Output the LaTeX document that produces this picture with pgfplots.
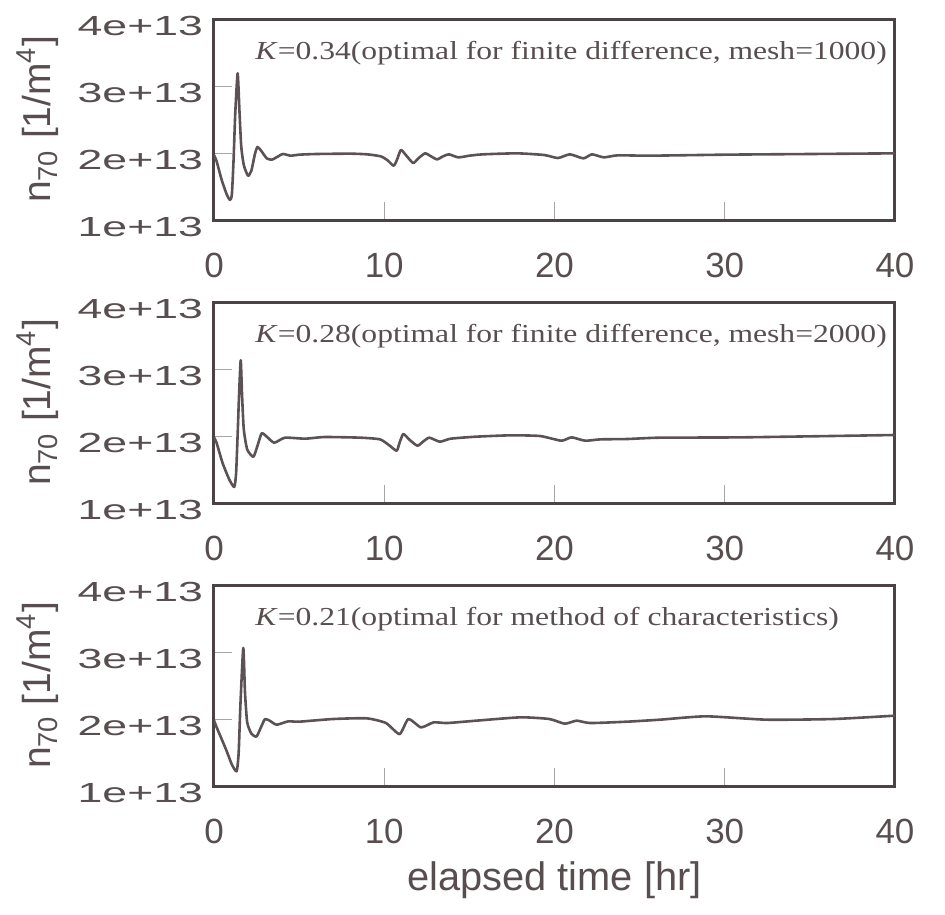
\documentclass[border=0pt]{standalone}
\usepackage{graphicx}
\usepackage{pgfplots}
\pgfplotsset{compat=1.18}
\usepackage{fontspec}
\setmainfont{Liberation Sans}
\newfontfamily\timesfont{Liberation Serif}
\definecolor{ink}{RGB}{88,78,80}
\definecolor{boxc}{RGB}{75,66,69}
\definecolor{tickc}{RGB}{170,165,165}
\definecolor{curve}{RGB}{92,82,85}

\newcommand{\ytl}[1]{\scalebox{1}[0.62]{#1}}
\pgfplotsset{panel/.style={
  scale only axis, width=340.5bp, height=100.5bp,
  xmin=0, xmax=40, ymin=1e13, ymax=4e13,
  xtick={0,10,20,30,40}, xticklabels={0,10,20,30,40},
  ytick={1e13,2e13,3e13,4e13},
  yticklabels={\ytl{1e+13},\ytl{2e+13},\ytl{3e+13},\ytl{4e+13}},
  scaled y ticks=false,
  tick align=inside, xtick pos=bottom, ytick pos=left,
  major tick length=9bp,
  tick style={draw=tickc, line width=0.5bp},
  axis line style={draw=boxc, line width=1.5bp, line cap=rect},
  xticklabel style={font=\fontsize{17.5bp}{20bp}\selectfont, text=ink, yshift=-13bp},
  yticklabel style={font=\fontsize{22.3bp}{24bp}\selectfont, text=ink, anchor=east, xshift=-2bp, yshift=-3.5bp},
  ylabel={n\textsubscript{70} [1/m\textsuperscript{4}]},
  ylabel style={font=\fontsize{19.5bp}{22bp}\selectfont, text=ink, at={(axis description cs:-0.2585,0.5)}, anchor=center},
},
nline/.style={draw=curve, line width=1.3bp, line join=round, smooth, tension=0.35, mark=none}}

\begin{document}
\begin{tikzpicture}
\useasboundingbox (-107bp,-347.5bp) rectangle (365.5bp,110bp);

\begin{axis}[panel, at={(0,0)}, anchor=south west]
\addplot[nline] coordinates {
(0,1.97e13) (0.15,1.88e13) (0.45,1.6e13) (0.75,1.38e13) (0.94,1.30e13) (1.05,1.38e13) (1.15,1.9e13) (1.25,2.6e13) (1.39,3.19e13) (1.5,2.6e13) (1.6,2.1e13) (1.75,1.82e13) (2.0,1.66e13) (2.2,1.74e13) (2.4,1.98e13) (2.55,2.09e13) (2.75,2.04e13) (3.1,1.92e13) (3.4,1.90e13) (3.7,1.94e13) (4.05,1.985e13) (4.5,1.96e13) (5.0,1.975e13) (6,1.985e13) (8,1.99e13) (9,1.98e13) (9.8,1.95e13) (10.2,1.89e13) (10.55,1.81e13) (10.75,1.9e13) (10.98,2.045e13) (11.3,1.96e13) (11.7,1.85e13) (12.0,1.92e13) (12.4,1.995e13) (12.75,1.95e13) (13.1,1.905e13) (13.45,1.95e13) (13.8,1.98e13) (14.35,1.935e13) (15.0,1.96e13) (15.8,1.98e13) (17.8,1.995e13) (19.4,1.97e13) (20.2,1.925e13) (20.9,1.98e13) (21.7,1.92e13) (22.2,1.98e13) (22.9,1.935e13) (23.7,1.965e13) (25.6,1.96e13) (30,1.975e13) (35,1.985e13) (40,1.995e13)
};
\node[anchor=base west, font=\timesfont\fontsize{15.8bp}{18bp}\selectfont, text=ink, inner sep=0pt] at (rel axis cs:0.0602,0.801) {\scalebox{1}[0.82]{\textit{K}=0.34(optimal for finite difference, mesh=1000)}};
\end{axis}

\begin{axis}[panel, at={(0,-141.5bp)}, anchor=south west]
\addplot[nline] coordinates {
(0,1.98e13) (0.15,1.9e13) (0.5,1.6e13) (0.9,1.35e13) (1.19,1.24e13) (1.3,1.45e13) (1.4,2.1e13) (1.47,2.6e13) (1.57,3.13e13) (1.65,2.6e13) (1.75,2.1e13) (1.95,1.8e13) (2.31,1.69e13) (2.55,1.85e13) (2.8,2.04e13) (3.1,1.99e13) (3.54,1.90e13) (4.17,1.975e13) (5.35,1.96e13) (6.5,1.985e13) (8.6,1.975e13) (9.75,1.95e13) (10.3,1.86e13) (10.73,1.78e13) (10.9,1.9e13) (11.12,2.03e13) (11.5,1.94e13) (11.95,1.855e13) (12.3,1.92e13) (12.65,1.975e13) (13.27,1.915e13) (13.9,1.96e13) (15.4,1.99e13) (17.4,2.01e13) (19.15,2.0e13) (20.4,1.93e13) (21.0,1.98e13) (21.8,1.93e13) (22.7,1.95e13) (24.25,1.955e13) (26.2,1.975e13) (31,1.98e13) (40,2.015e13)
};
\node[anchor=base west, font=\timesfont\fontsize{15.8bp}{18bp}\selectfont, text=ink, inner sep=0pt] at (rel axis cs:0.0602,0.801) {\scalebox{1}[0.82]{\textit{K}=0.28(optimal for finite difference, mesh=2000)}};
\end{axis}

\begin{axis}[panel, at={(0,-283bp)}, anchor=south west,
  xlabel={elapsed time [hr]},
  xlabel style={font=\fontsize{19.9bp}{22bp}\selectfont, text=ink, at={(axis description cs:0.5,-0.4677)}, anchor=center}]
\addplot[nline] coordinates {
(0,1.98e13) (0.15,1.88e13) (0.7,1.55e13) (1.05,1.32e13) (1.33,1.22e13) (1.45,1.5e13) (1.55,2.2e13) (1.72,3.06e13) (1.82,2.4e13) (1.95,1.95e13) (2.2,1.78e13) (2.5,1.74e13) (2.8,1.9e13) (3.0,2.0e13) (3.3,1.97e13) (3.68,1.915e13) (4.36,1.965e13) (5.0,1.96e13) (7.0,2.0e13) (8.97,2.01e13) (10.1,1.94e13) (10.9,1.775e13) (11.42,2.0e13) (12.16,1.875e13) (12.9,1.95e13) (13.7,1.94e13) (15.4,1.975e13) (18,2.025e13) (19.7,2.0e13) (20.6,1.93e13) (21.3,1.975e13) (22.1,1.94e13) (24.25,1.96e13) (26.2,1.99e13) (28.9,2.04e13) (32.45,1.99e13) (36.4,2.0e13) (40,2.05e13)
};
\node[anchor=base west, font=\timesfont\fontsize{15.8bp}{18bp}\selectfont, text=ink, inner sep=0pt] at (rel axis cs:0.0602,0.801) {\scalebox{1}[0.82]{\textit{K}=0.21(optimal for method of characteristics)}};
\end{axis}
\end{tikzpicture}
\end{document}
